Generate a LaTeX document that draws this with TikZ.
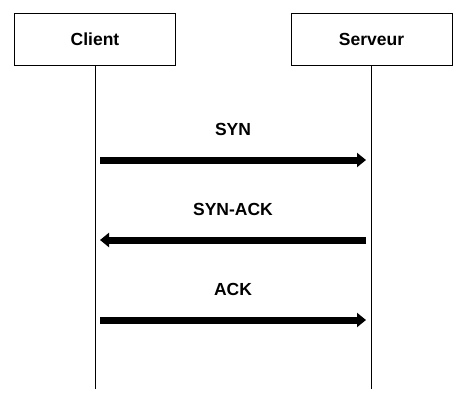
\documentclass[tikz,border=0pt]{standalone}
\usepackage{fontspec}
\setmainfont{Liberation Sans}
\usetikzlibrary{positioning, arrows.meta}

\begin{document}
\begin{tikzpicture}[
                x=1pt, y=-1pt,
                actor/.style={rectangle, draw, line width=0.8pt, minimum width=161pt, minimum height=52pt, font=\fontsize{17.5}{20}\selectfont\bfseries},
                msg/.style={font=\fontsize{17.5}{20}\selectfont\bfseries},
                lifeline/.style={line width=0.8pt},
                signal/.style={-{Triangle[length=9pt, width=14pt]}, line width=7pt}
            ]
                \useasboundingbox (0,0) rectangle (471,409);

                % Nodes
                \node[actor] (client) at (95,39) {Client};
                \node[actor] (serveur) at (371.5,39) {Serveur};

                % Lifelines
                \coordinate (client-end) at (95,389);
                \coordinate (serveur-end) at (371.5,389);
                \draw[lifeline] (client) -- (client-end);
                \draw[lifeline] (serveur) -- (serveur-end);

                % Message ends
                \coordinate (c-syn) at (100,160);
                \coordinate (s-syn) at (366,160);
                \coordinate (c-synack) at (100,240);
                \coordinate (s-synack) at (366,240);
                \coordinate (c-ack) at (100,320);
                \coordinate (s-ack) at (366,320);

                % Messages
                \draw[signal] (c-syn) -- (s-syn);
                \draw[signal] (s-synack) -- (c-synack);
                \draw[signal] (c-ack) -- (s-ack);

                % Labels
                \node[msg] (syn) at (233,129) {SYN};
                \node[msg] (synack) at (233,209) {SYN-ACK};
                \node[msg] (ack) at (233,289) {ACK};
            \end{tikzpicture}
\end{document}
